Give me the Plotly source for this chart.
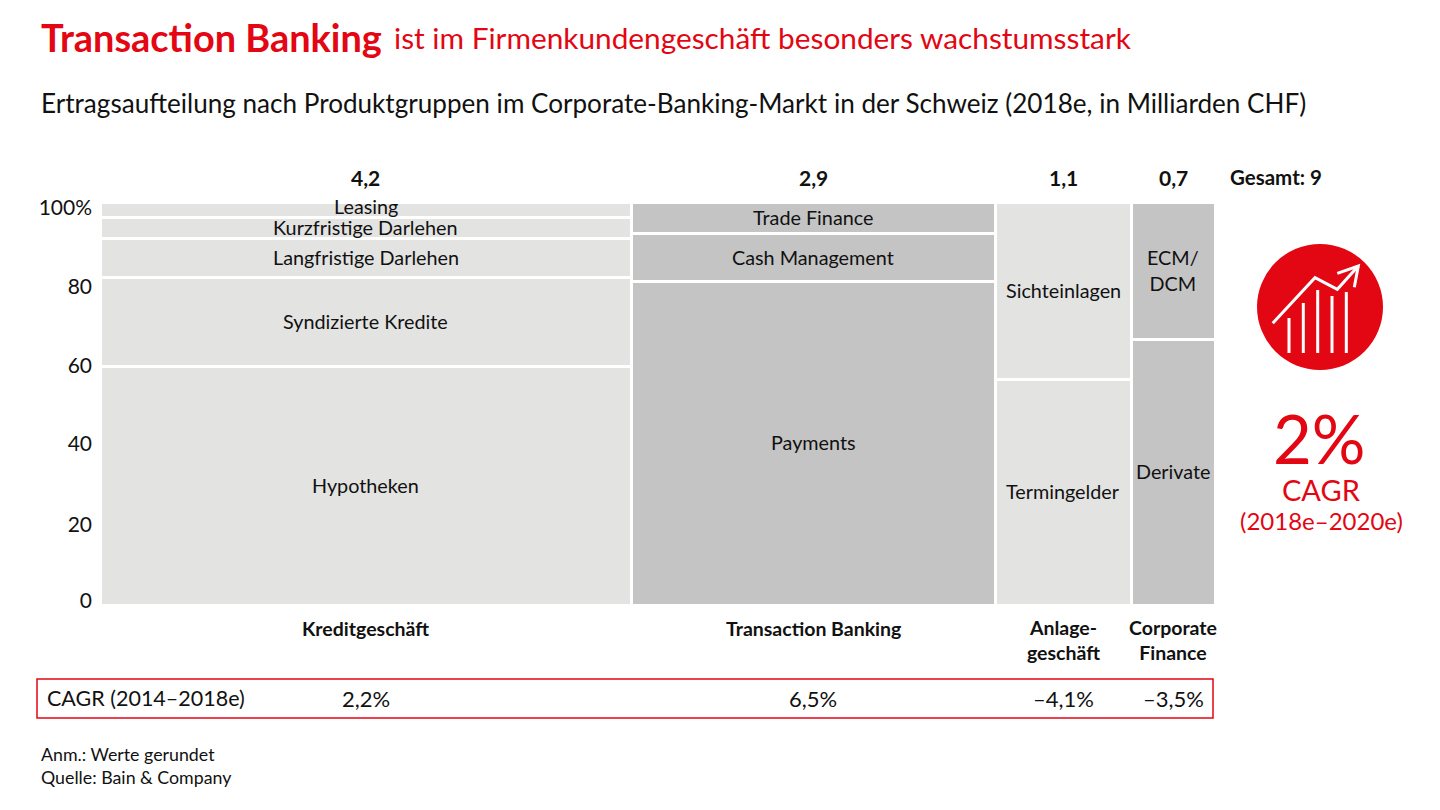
import plotly.graph_objects as go

W = 1440
H = 810
RED = "#E30613"
LIGHT = "#E3E3E2"
DARK = "#C4C4C4"
INK = "#111111"
FONT = "Lato"

# market size per group, in billions CHF
groups = ["Kreditgeschäft", "Transaction Banking", "Anlage-<br>geschäft", "Corporate<br>Finance"]
total_labels = ["4,2", "2,9", "1,1", "0,7"]
# column widths as drawn in the picture (labels above are rounded)
column_widths = [4.24, 2.91, 1.08, 0.67]
cagr_labels = ["2,2%", "6,5%", "–4,1%", "–3,5%"]
group_colors = [LIGHT, DARK, LIGHT, DARK]

# shares per group, bottom to top, in percent
kredit_products = ["Hypotheken", "Syndizierte Kredite", "Langfristige Darlehen", "Kurzfristige Darlehen", "Leasing"]
kredit_shares = [59.2, 22.1, 9.7, 5.2, 3.8]
transaction_products = ["Payments", "Cash Management", "Trade Finance"]
transaction_shares = [80.2, 12.0, 7.8]
anlage_products = ["Termingelder", "Sichteinlagen"]
anlage_shares = [56.0, 44.0]
corporate_products = ["Derivate", "ECM/<br>DCM"]
corporate_shares = [65.8, 34.2]

products = [kredit_products, transaction_products, anlage_products, corporate_products]
shares = [kredit_shares, transaction_shares, anlage_shares, corporate_shares]

# the labels in the picture do not sit exactly on their gridline values
y_ticks = [1, 20, 40, 59.5, 79, 98.5]
y_tick_labels = ["0", "20", "40", "60", "80", "100%"]

# plot area in pixels
PLOT_L, PLOT_R, PLOT_T, PLOT_B = 100, 1215, 202, 605

# leasing label sits above the middle of its thin band
LABEL_NUDGE = {"Leasing": 3}


def px(x):
    return x / W


def py(y):
    return 1 - y / H


def text(x, y, s, size, color=INK, bold=False, anchor="center"):
    fig.add_annotation(
        x=px(x), y=py(y), xref="paper", yref="paper", text=f"<b>{s}</b>" if bold else s,
        showarrow=False, xanchor=anchor, yanchor="middle", align="center",
        font=dict(family=FONT, size=size, color=color),
    )


fig = go.Figure()

# marimekko columns: bar width is the group size
total_sum = sum(column_widths)
mids = []
left = 0
for i, width in enumerate(column_widths):
    mid = left + width / 2
    mids.append(mid)
    base = 0
    for name, share in zip(products[i], shares[i]):
        fig.add_trace(go.Bar(
            x=[mid], y=[share], width=[width], name=name, showlegend=False,
            marker=dict(color=group_colors[i], line=dict(color="white", width=3)),
        ))
        fig.add_annotation(
            x=mid, y=base + share / 2, xref="x", yref="y", text=name, showarrow=False,
            yanchor="middle", yshift=1 + LABEL_NUDGE.get(name, 0),
            font=dict(family=FONT, size=19.8, color=INK),
        )
        base += share
    left += width

fig.update_layout(
    width=W, height=H, margin=dict(l=0, r=0, t=0, b=0), autosize=False,
    barmode="stack", paper_bgcolor="white", plot_bgcolor="white",
    xaxis=dict(domain=[px(PLOT_L), px(PLOT_R)], range=[0, total_sum], visible=False, fixedrange=True,
               automargin=False),
    yaxis=dict(
        domain=[py(PLOT_B), py(PLOT_T)], range=[0, 100], tickvals=y_ticks, ticktext=y_tick_labels,
        showgrid=False, zeroline=False, showline=False, ticks="", ticklabelstandoff=7, automargin=False,
        tickfont=dict(family=FONT, size=21, color=INK), fixedrange=True,
    ),
)

# header
text(39, 37, "Transaction Banking", 37.9, RED, bold=True, anchor="left")
text(392, 37, "ist im Firmenkundengeschäft besonders wachstumsstark", 29.8, RED, anchor="left")
text(39, 103, "Ertragsaufteilung nach Produktgruppen im Corporate-Banking-Markt in der Schweiz (2018e, in Milliarden CHF)",
     26.1, INK, anchor="left")

# labels above, below and the CAGR row, placed on the x axis
for mid, total, group, cagr, below_y in zip(mids, total_labels, groups, cagr_labels, [628, 628, 640, 640]):
    fig.add_annotation(x=mid, y=py(177), xref="x", yref="paper", yanchor="middle", text=f"<b>{total}</b>",
                       showarrow=False, font=dict(family=FONT, size=21, color=INK))
    fig.add_annotation(x=mid, y=py(below_y), xref="x", yref="paper", yanchor="middle", text=f"<b>{group}</b>",
                       showarrow=False, align="center", font=dict(family=FONT, size=19.5, color=INK))
    fig.add_annotation(x=mid, y=py(698), xref="x", yref="paper", yanchor="middle", text=cagr,
                       showarrow=False, font=dict(family=FONT, size=22, color=INK))

text(1276, 177, "Gesamt: 9", 20.5, INK, bold=True)
text(45, 698, "CAGR (2014–2018e)", 21.5, INK, anchor="left")
text(39, 754, "Anm.: Werte gerundet", 17.8, INK, anchor="left")
text(39, 777, "Quelle: Bain &amp; Company", 17.8, INK, anchor="left")

# right hand callout
text(1319, 438, "2%", 67, RED)
text(1321, 489, "CAGR", 29, RED)
text(1321, 520, "(2018e–2020e)", 24, RED)

fig.add_shape(type="rect", xref="paper", yref="paper", x0=px(37), x1=px(1213), y0=py(679), y1=py(718),
              line=dict(color=RED, width=1.5))

# growth icon
fig.add_shape(type="circle", xref="paper", yref="paper", x0=px(1257), x1=px(1383), y0=py(244), y1=py(370),
              fillcolor=RED, line=dict(width=0))
for bar_x, bar_top in zip([1289, 1303.3, 1317.7, 1332, 1346.3], [318, 303, 290, 296, 292]):
    fig.add_shape(type="line", xref="paper", yref="paper", x0=px(bar_x), x1=px(bar_x), y0=py(353), y1=py(bar_top),
                  line=dict(color="white", width=3))
for pts in [[(1272.7, 323.3), (1315, 277.7), (1337.3, 289.3), (1358.3, 266)],
            [(1337.3, 273.3), (1358.3, 266), (1354.3, 287.3)]]:
    path = "M " + " L ".join(f"{px(a):.5f},{py(b):.5f}" for a, b in pts)
    fig.add_shape(type="path", xref="paper", yref="paper", path=path, line=dict(color="white", width=3))

fig.write_html("out.html", post_script="document.body.style.margin='0';", config={"displayModeBar": False})
